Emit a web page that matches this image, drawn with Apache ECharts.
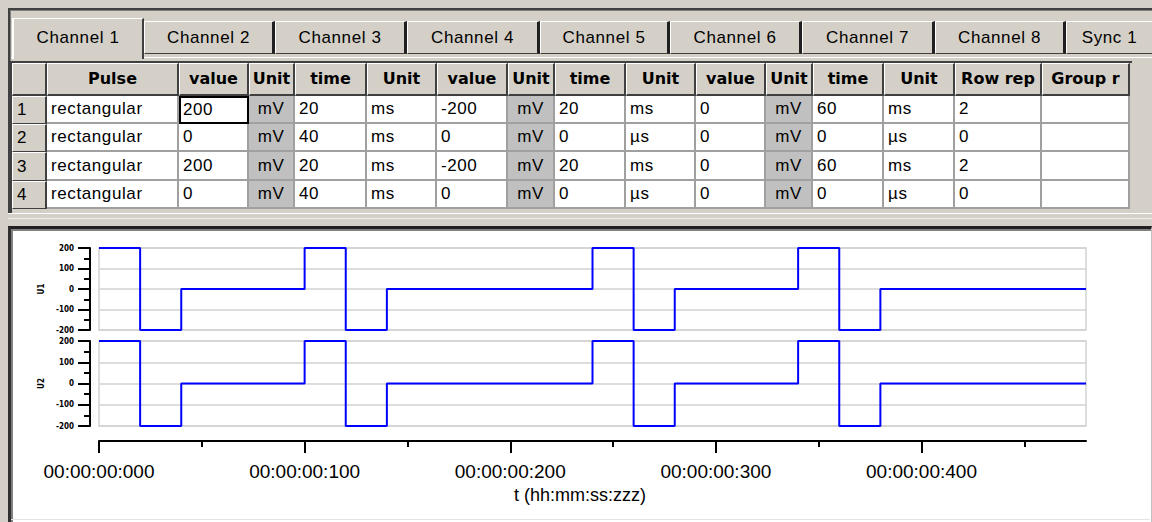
<!DOCTYPE html>
<html>
<head>
<meta charset="utf-8">
<script src="https://cdn.jsdelivr.net/npm/echarts@6/dist/echarts.min.js"></script>
<style>
html,body{margin:0;padding:0;width:1152px;height:522px;overflow:hidden;background:#d4d0c8;font-family:"Liberation Sans",Arial,sans-serif;color:#000;}
.abs{position:absolute;box-sizing:border-box;}
.tab{background:#d4d0c8;text-align:center;font-size:17px;letter-spacing:0.6px;white-space:nowrap;overflow:hidden;}
.cell{font-size:17px;letter-spacing:0.6px;white-space:nowrap;overflow:hidden;padding-left:4px;}
.hdr{font-family:"DejaVu Sans",Verdana,sans-serif;font-weight:bold;font-size:16px;text-align:center;white-space:nowrap;overflow:hidden;background:#d4d0c8;
 border-top:1px solid #fff;border-left:1px solid #fff;border-right:2px solid #404040;border-bottom:2px solid #404040;}
#chart{position:absolute;left:0;top:0;width:1152px;height:522px;pointer-events:none;}
</style>
</head>
<body>
<div id="ui"></div>
<div id="chart"></div>
<script>
// ---------- data ----------
const tabLabels = ['Channel 1','Channel 2','Channel 3','Channel 4','Channel 5','Channel 6','Channel 7','Channel 8','Sync 1'];
const tableHeaders = ['', 'Pulse','value','Unit','time','Unit','value','Unit','time','Unit','value','Unit','time','Unit','Row rep','Group r'];
const row1 = ['1','rectangular','200','mV','20','ms','-200','mV','20','ms','0','mV','60','ms','2',''];
const row2 = ['2','rectangular','0','mV','40','ms','0','mV','0','µs','0','mV','0','µs','0',''];
const row3 = ['3','rectangular','200','mV','20','ms','-200','mV','20','ms','0','mV','60','ms','2',''];
const row4 = ['4','rectangular','0','mV','40','ms','0','mV','0','µs','0','mV','0','µs','0',''];
const tableRows = [row1,row2,row3,row4];

const timesMs  = [0, 20, 40, 100, 120, 140, 240, 260, 280, 340, 360, 380, 480];
const u1Values = [200, -200, 0, 200, -200, 0, 200, -200, 0, 200, -200, 0, 0];
const u2Values = [200, -200, 0, 200, -200, 0, 200, -200, 0, 200, -200, 0, 0];
const xTickValues = [0, 100, 200, 300, 400];
const xMinorTickValues = [50, 150, 250, 350, 450];
const xTickLabels = ['00:00:00:000','00:00:00:100','00:00:00:200','00:00:00:300','00:00:00:400'];
const xAxisName = 't (hh:mm:ss:zzz)';
const yNames = ['U1','U2'];

// ---------- UI (tabs + table) ----------
const ui = document.getElementById('ui');
function box(l,t,w,h,cls,style,text){
  const d=document.createElement('div');
  d.className='abs '+(cls||'');
  d.style.left=l+'px';d.style.top=t+'px';d.style.width=w+'px';d.style.height=h+'px';
  if(style) Object.assign(d.style,style);
  if(text!==undefined) d.textContent=text;
  ui.appendChild(d); return d;
}
// outer frame
box(8,8,1144,2,'',{background:'#404040'});
box(8,8,2,206,'',{background:'#404040'});
box(10,10,1142,1,'',{background:'#808080'});
box(10,10,1,204,'',{background:'#808080'});
// tab panel top highlight
box(11,57,1141,1,'',{background:'#fff'});
// tabs
const tabLefts=[12,144,275,407,540,670,802,935,1066];
tabLabels.forEach((lab,i)=>{
  const l=tabLefts[i];
  const w=(i<tabLefts.length-1?tabLefts[i+1]:1152)-l;
  if(i===0){
    box(l,18,w,41,'tab',{borderTop:'1px solid #fff',borderLeft:'2px solid #fff',borderRight:'2px solid #404040',lineHeight:'38px',zIndex:2},lab);
  }else{
    box(l,21,w,33,'tab',{borderTop:'1px solid #fff',borderLeft:'1px solid #fff',borderRight:i<tabLefts.length-1?'3px solid #202020':'none',borderBottom:'1px solid #404040',lineHeight:'31px'},lab);
  }
});
// table
const colEdges=[12,47,179,249,295,367,437,508,555,626,696,766,813,884,955,1042,1130];
const rowEdges=[63,96,124,152,181,209];
box(10,61,1122,2,'',{background:'#404040'});
box(10,61,2,152,'',{background:'#404040'});
const grayCols=[3,7,11];
tableHeaders.forEach((h,c)=>{
  const l=colEdges[c],w=colEdges[c+1]-l,t=rowEdges[0],hh=rowEdges[1]-t;
  box(l,t,w,hh,'hdr',{lineHeight:(hh-3)+'px'},h);
});
tableRows.forEach((r,ri)=>{
  const t=rowEdges[ri+1],hh=rowEdges[ri+2]-t;
  r.forEach((v,c)=>{
    const l=colEdges[c],w=colEdges[c+1]-l;
    if(c===0){
      box(l,t,w,hh,'cell',{background:'#d4d0c8',borderTop:'1px solid #fff',borderLeft:'1px solid #fff',borderRight:'2px solid #404040',borderBottom:'1px solid #404040',lineHeight:(hh-2)+'px'},v);
    }else{
      const gray=grayCols.includes(c);
      const st={background:gray?'#c0c0c0':'#fff',borderRight:'2px solid #a0a0a0',borderBottom:'2px solid #a0a0a0',lineHeight:(hh-2)+'px'};
      if(gray){st.textAlign='center';st.paddingLeft='0';}
      if(ri===0&&c===2){st.border='2px solid #000';st.lineHeight=(hh-4)+'px';st.paddingLeft='2px';}
      box(l,t,w,hh,'cell',st,v);
    }
  });
});
// splitter lines
box(8,213,1144,1,'',{background:'#fff'});
box(8,218,1144,1,'',{background:'#eeece8'});
// chart panel
box(8,226,1144,296,'',{background:'#fff',borderTop:'3px solid #202020',borderLeft:'3px solid #303030',borderRight:'1px solid #c0c0c0',boxShadow:'inset 2px 2px 0 #808080'});
box(11,519,1139,1,'',{background:'#e4e4e4'});

// ---------- chart ----------
const chart = echarts.init(document.getElementById('chart'), null, {renderer:'svg', width:1152, height:522});
const black={color:'#000',width:2};
const yLabelFont={fontSize:8,fontWeight:'bold',fontFamily:'DejaVu Sans Condensed, DejaVu Sans, sans-serif',color:'#000'};
function yAx(i){
  return {gridIndex:i,type:'value',min:-200,max:200,interval:100,offset:9,
    name:yNames[i],nameLocation:'middle',nameGap:45,nameTextStyle:yLabelFont,
    axisLine:{show:true,onZero:false,lineStyle:black},
    axisTick:{show:true,inside:false,length:12,lineStyle:black},
    minorTick:{show:true,splitNumber:2,length:6,lineStyle:black},
    axisLabel:Object.assign({margin:16},yLabelFont),
    splitLine:{show:true,lineStyle:{color:'#d2d2d2',width:1.5}},
    minorSplitLine:{show:false}};
}
const gridStyle={show:true,borderColor:'#d2d2d2',borderWidth:1.5,backgroundColor:'transparent',containLabel:false};
chart.setOption({
  animation:false,
  grid:[Object.assign({left:99,right:66,top:248,height:82},gridStyle),
        Object.assign({left:99,right:66,top:341,height:85},gridStyle)],
  xAxis:[
    {gridIndex:0,type:'value',min:0,max:480,show:false},
    {gridIndex:1,type:'value',min:0,max:480,position:'bottom',offset:15,
     axisLine:{show:true,onZero:false,lineStyle:black},
     axisTick:{show:true,inside:false,customValues:xTickValues,length:12,lineStyle:black},
     axisLabel:{customValues:xTickValues,formatter:v=>xTickLabels[xTickValues.indexOf(v)],margin:21,fontSize:19,fontFamily:'Liberation Sans, Arial, sans-serif',color:'#000'},
     splitLine:{show:false}},
    {gridIndex:1,type:'value',min:0,max:480,position:'bottom',offset:15,
     axisLine:{show:false,onZero:false},
     axisTick:{show:true,inside:false,customValues:xMinorTickValues,length:6,lineStyle:black},
     axisLabel:{show:false},splitLine:{show:false}}
  ],
  yAxis:[yAx(0),yAx(1)],
  graphic:[{type:'text',x:580,y:495,style:{text:xAxisName,font:'18px "Liberation Sans", Arial, sans-serif',fill:'#000',textAlign:'center',textVerticalAlign:'middle',align:'center',verticalAlign:'middle'}}],
  series:[
    {type:'line',xAxisIndex:0,yAxisIndex:0,step:'end',symbol:'none',data:timesMs.map((t,i)=>[t,u1Values[i]]),lineStyle:{color:'#0000ff',width:2},itemStyle:{color:'#0000ff'}},
    {type:'line',xAxisIndex:1,yAxisIndex:1,step:'end',symbol:'none',data:timesMs.map((t,i)=>[t,u2Values[i]]),lineStyle:{color:'#0000ff',width:2},itemStyle:{color:'#0000ff'}}
  ]
});
</script>
</body>
</html>
